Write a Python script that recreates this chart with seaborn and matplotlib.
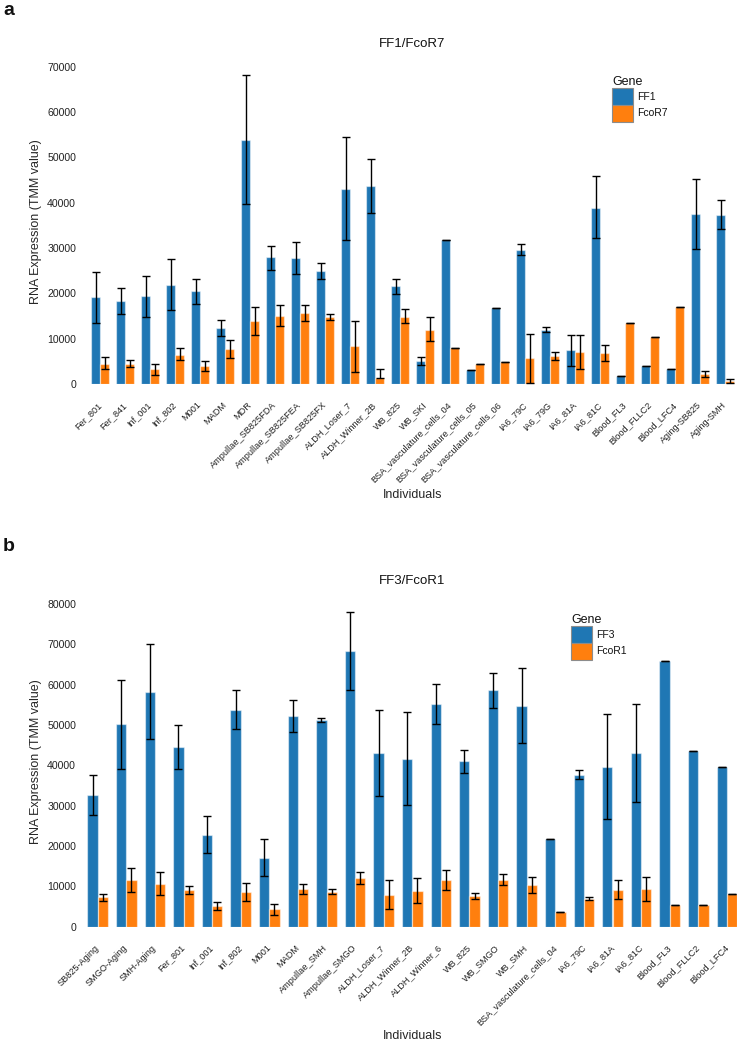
import numpy as np
import pandas as pd
import matplotlib
matplotlib.use("Agg")
import matplotlib.pyplot as plt
from matplotlib.patches import Patch
import seaborn as sns

# ==========================================
# Data
# ==========================================
cats_a = ["Fer_801", "Fer_841", "Inf_001", "Inf_802", "M001", "MADM", "MDR",
          "Ampullae_SB825FDA", "Ampullae_SB825FEA", "Ampullae_SB825FX",
          "ALDH_Loser_7", "ALDH_Winner_2B", "WB_825", "WB_SKI",
          "BSA_vasculature_cells_04", "BSA_vasculature_cells_05",
          "BSA_vasculature_cells_06", "IA6_79C", "IA6_79G", "IA6_81A", "IA6_81C",
          "Blood_FL3", "Blood_FLLC2", "Blood_LFC4", "Aging-SB825", "Aging-SMH"]
ff1 = [19100, 18300, 19300, 21900, 20400, 12400, 53800, 27900, 27700, 24900,
       43100, 43700, 21600, 5000, 31800, 3000, 16700, 29600, 12000, 7400, 38900,
       1800, 4000, 3400, 37500, 37300]
ff1_lo = [13500, 15500, 14800, 16400, 17700, 10600, 39600, 25200, 24200, 23100,
          31800, 37800, 19900, 4100, 31800, 3000, 16700, 28400, 11400, 4000, 32200,
          1800, 4000, 3400, 29800, 34200]
ff1_hi = [24700, 21200, 23900, 27600, 23200, 14200, 68200, 30500, 31200, 26700,
          54400, 49700, 23200, 6000, 31800, 3000, 16700, 30800, 12600, 10700, 45800,
          1800, 4000, 3400, 45200, 40600]
fcor7 = [4500, 4400, 3200, 6500, 4000, 7700, 14000, 15100, 15600, 14800,
         8300, 1400, 14800, 12000, 8000, 4500, 4800, 5700, 6100, 7000, 6800,
         13400, 10400, 17000, 2100, 600]
fcor7_lo = [3200, 3700, 1900, 5400, 2900, 5800, 10800, 12700, 13800, 14200,
            2700, 1400, 13400, 9500, 8000, 4500, 4800, 300, 5400, 3200, 5000,
            13400, 10400, 17000, 1500, 200]
fcor7_hi = [6000, 5300, 4400, 7900, 5000, 9600, 17000, 17500, 17400, 15500,
            14000, 3200, 16500, 14800, 8000, 4500, 4800, 11100, 7100, 10700, 8600,
            13400, 10400, 17000, 2900, 1000]

cats_b = ["SB825-Aging", "SMGO-Aging", "SMH-Aging", "Fer_801", "Inf_001", "Inf_802",
          "M001", "MADM", "Ampullae_SMH", "Ampullae_SMGO", "ALDH_Loser_7",
          "ALDH_Winner_2B", "ALDH_Winner_6", "WB_825", "WB_SMGO", "WB_SMH",
          "BSA_vasculature_cells_04", "IA6_79C", "IA6_81A", "IA6_81C",
          "Blood_FL3", "Blood_FLLC2", "Blood_LFC4"]
ff3 = [32600, 50200, 58300, 44600, 22700, 53700, 17000, 52200, 51200, 68300,
       43100, 41700, 55100, 41000, 58600, 54700, 21800, 37600, 39500, 43000,
       65800, 43600, 39600]
ff3_lo = [27600, 39200, 46500, 39200, 18200, 48900, 12500, 48200, 50800, 58600,
          32500, 30300, 50300, 38100, 54300, 45500, 21800, 36500, 26600, 31000,
          65800, 43600, 39600]
ff3_hi = [37500, 61100, 70100, 49900, 27400, 58600, 21700, 56100, 51700, 78000,
          53700, 53200, 60100, 43900, 63000, 64100, 21800, 38900, 52700, 55100,
          65800, 43600, 39600]
fcor1 = [7300, 11500, 10700, 9100, 5100, 8600, 4300, 9400, 8700, 12000,
         7900, 8900, 11500, 7600, 11700, 10300, 3600, 6900, 9200, 9300,
         5500, 5500, 8200]
fcor1_lo = [6400, 8500, 7900, 8100, 4100, 6400, 3000, 8200, 8000, 10500,
            4400, 5900, 9000, 6900, 10300, 8300, 3600, 6500, 6900, 6400,
            5500, 5500, 8200]
fcor1_hi = [8200, 14500, 13600, 10200, 6200, 10900, 5700, 10700, 9400, 13600,
            11600, 12000, 14000, 8400, 13100, 12300, 3600, 7300, 11500, 12200,
            5500, 5500, 8200]

COLORS = ["#1f77b4", "#ff7f0e"]

sns.set_style("white")
plt.rcParams['font.family'] = ['Liberation Sans', 'DejaVu Sans']
plt.rcParams['text.color'] = '#111111'


def draw_panel(fig, rect, cats, genes, means, los, his, title, ytick_pad,
               legend_xy, xlabel_y):
    ax = fig.add_axes(rect)
    df = pd.DataFrame({
        'Individuals': cats * 2,
        'Gene': [genes[0]] * len(cats) + [genes[1]] * len(cats),
        'Value': list(means[0]) + list(means[1]),
    })
    sns.barplot(data=df, x='Individuals', y='Value', hue='Gene', order=cats,
                hue_order=genes, palette=COLORS, errorbar=None, width=0.72,
                linewidth=0.9, edgecolor=(1, 1, 1, 0.5), saturation=1,
                legend=False, ax=ax)

    # error bars at the bar centres
    for cont, m, lo, hi in zip(ax.containers, means, los, his):
        xs = [b.get_x() + b.get_width() / 2 for b in cont]
        m = np.array(m); lo = np.array(lo); hi = np.array(hi)
        ax.errorbar(xs, m, yerr=[m - lo, hi - m], fmt='none', ecolor='black',
                    elinewidth=1.0, capsize=2.8, capthick=1.0, zorder=5)

    ymax = max(max(his[0]), max(his[1])) * 1.05
    ax.set_ylim(0, ymax)
    ax.set_xlim(-0.5, len(cats) - 0.5)
    sns.despine(ax=ax, left=True, bottom=True)

    ax.tick_params(axis='y', length=0, pad=ytick_pad, labelsize=7.6, labelcolor='#222222')
    ax.tick_params(axis='x', length=0, pad=14, labelsize=6.6, labelcolor='#222222')
    plt.setp(ax.get_xticklabels(), rotation=45, ha='right', va='center',
             rotation_mode='anchor')

    ax.set_title(title, fontsize=9.5, pad=9)
    ax.set_ylabel("RNA Expression (TMM value)", fontsize=9)
    ax.set_xlabel("Individuals", fontsize=9)
    ax.xaxis.set_label_coords(0.5, xlabel_y)

    handles = [Patch(facecolor=c, edgecolor='#8c8c8c', linewidth=0.8) for c in COLORS]
    ax.legend(handles, genes, title='Gene', loc='upper left',
              bbox_to_anchor=(legend_xy[0] / 737, 1 - legend_xy[1] / 1049),
              bbox_transform=fig.transFigure, frameon=False, fontsize=7.5,
              title_fontsize=9, borderpad=0, borderaxespad=0,
              handlelength=2.0, handleheight=2.1, labelspacing=0,
              handletextpad=0.45, alignment='left')
    return ax


fig = plt.figure(figsize=(7.37, 10.49), dpi=100)

draw_panel(fig, [87.5 / 737, 1 - 384 / 1049, 650 / 737, 324.8 / 1049],
           cats_a, ["FF1", "FcoR7"], [ff1, fcor7], [ff1_lo, fcor7_lo],
           [ff1_hi, fcor7_hi], "FF1/FcoR7", 8.3, (612, 76), -0.322)

draw_panel(fig, [83.4 / 737, 1 - 926.7 / 1049, 657.8 / 737, 330.3 / 1049],
           cats_b, ["FF3", "FcoR1"], [ff3, fcor1], [ff3_lo, fcor1_lo],
           [ff3_hi, fcor1_hi], "FF3/FcoR1", 5.3, (571, 614), -0.312)

fig.text(0.004, 0.998, 'a', fontsize=14, fontweight='bold', va='top', ha='left')
fig.text(0.004, 1 - 538 / 1049, 'b', fontsize=14, fontweight='bold', va='top', ha='left')

fig.savefig('out.png', dpi=100)
